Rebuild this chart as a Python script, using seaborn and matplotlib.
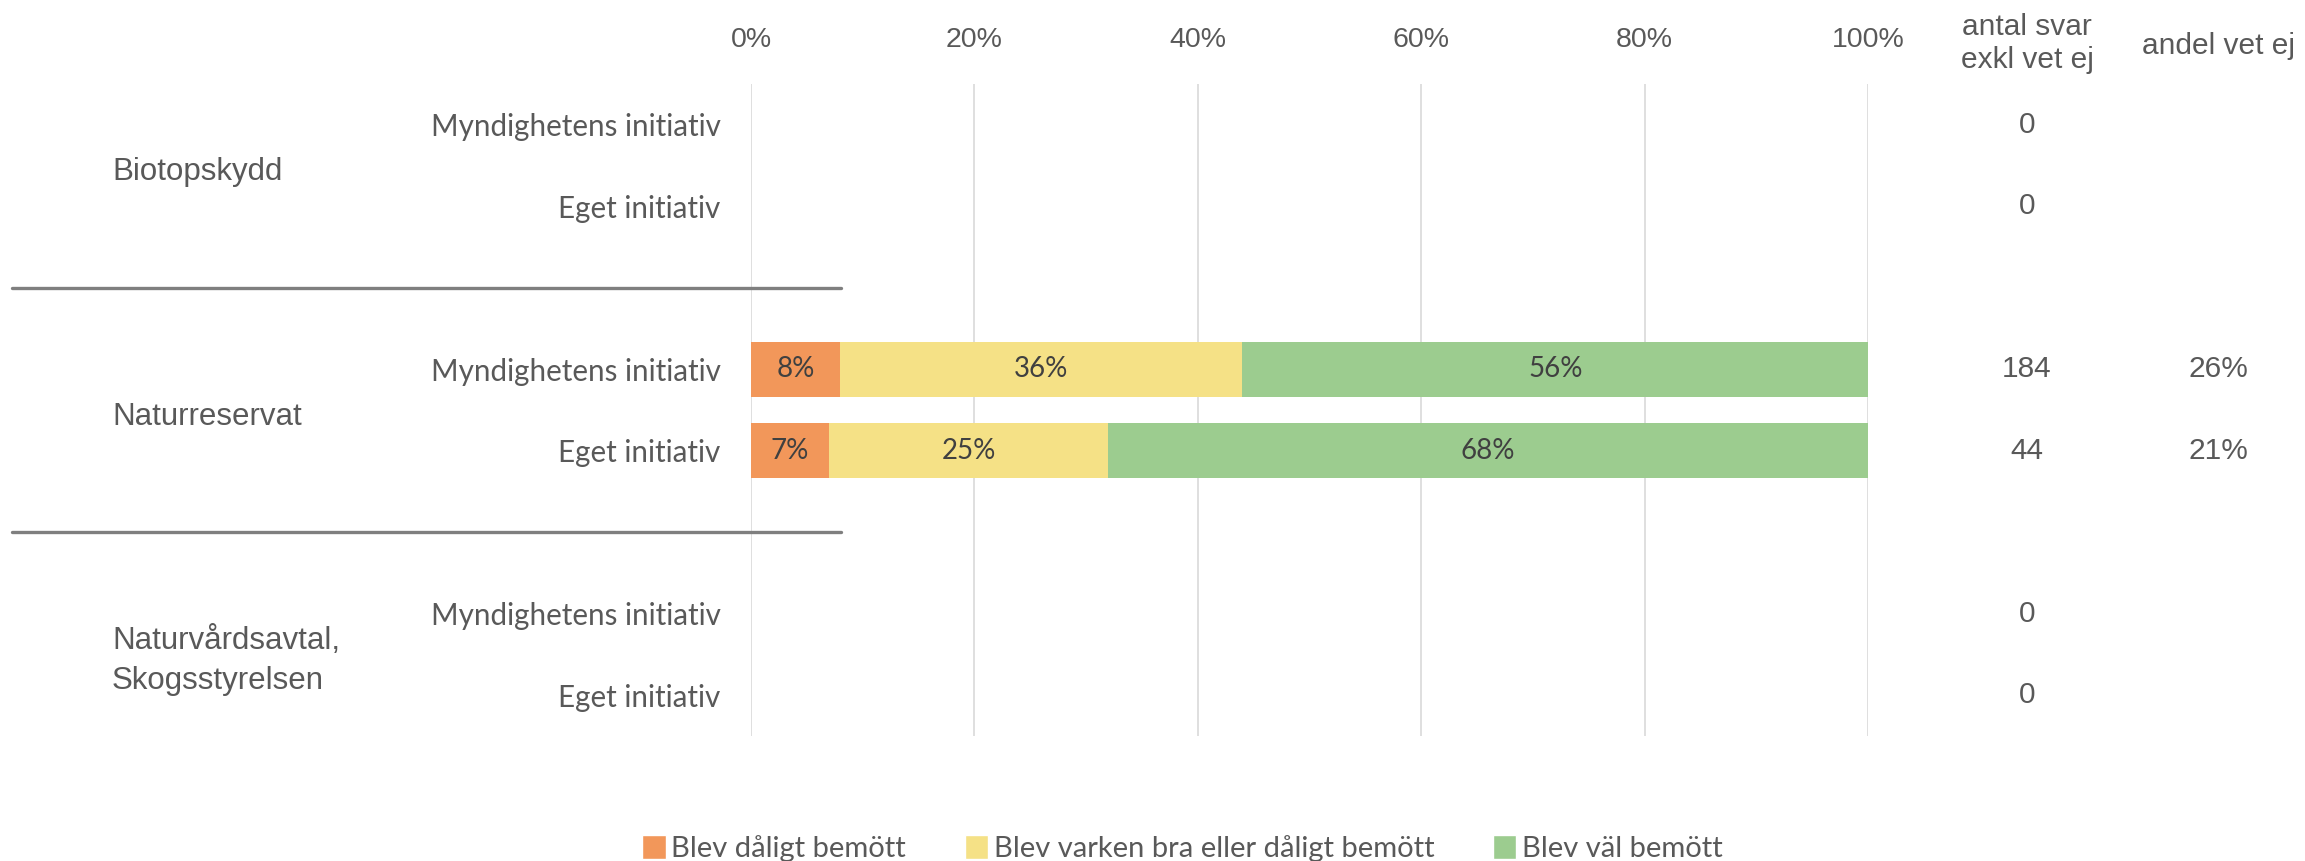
import numpy as np
import pandas as pd
import seaborn as sns
import matplotlib.pyplot as plt
from matplotlib import transforms
from matplotlib.lines import Line2D
from matplotlib.patches import Patch

# data
groups = ['Biotopskydd', 'Naturreservat', 'Naturvårdsavtal,\nSkogsstyrelsen']
initiatives = ['Myndighetens initiativ', 'Eget initiativ']
series = ['Blev dåligt bemött', 'Blev varken bra eller dåligt bemött', 'Blev väl bemött']
daligt = [np.nan, np.nan, 8, 7, np.nan, np.nan]
varken = [np.nan, np.nan, 36, 25, np.nan, np.nan]
val = [np.nan, np.nan, 56, 68, np.nan, np.nan]
antal_svar = ['0', '0', '184', '44', '0', '0']
andel_vet_ej = ['', '', '26%', '21%', '', '']
x_ticks = [0, 20, 40, 60, 80, 100]

colors = ['#F2975A', '#F5E186', '#9CCC8F']
grey = '#595959'
arial = 'Liberation Sans'
calibri = 'Lato'

rows = [f'{g}|{i}' for g in groups for i in initiatives]
order = rows[0:2] + ['gap1'] + rows[2:4] + ['gap2'] + rows[4:6]

df = pd.DataFrame({'row': rows, 'daligt': daligt, 'varken': varken, 'val': val})
df['c1'] = df['daligt']
df['c2'] = df['c1'] + df['varken']
df['c3'] = df['c2'] + df['val']

sns.set_style('white')
plt.rcParams['font.family'] = [arial, 'DejaVu Sans']

fig = plt.figure(figsize=(23.05, 8.61), dpi=100)
ax = fig.add_axes([751 / 2305, 1 - 736 / 861, 1117 / 2305, (736 - 84) / 861])

# stacked bars: draw cumulative totals from largest to smallest
for col, color in zip(['c3', 'c2', 'c1'], colors[::-1]):
    sns.barplot(data=df.dropna(subset=[col]), x=col, y='row', order=order, orient='h',
                color=color, width=0.67, saturation=1, errorbar=None, linewidth=0, ax=ax)

# segment labels
for _, r in df.dropna(subset=['c3']).iterrows():
    yi = order.index(r['row'])
    start = 0
    for v in [r['daligt'], r['varken'], r['val']]:
        ax.text(start + v / 2, yi, f'{v:.0f}%', ha='center', va='center',
                fontsize=20, family=calibri, color='#404040')
        start += v

ax.set_xlim(0, 100)
ax.set_ylim(len(order) - 0.5, -0.5)
ax.set_xticks(x_ticks)
ax.set_xticklabels([f'{t}%' for t in x_ticks], fontsize=20.5, color=grey)
ax.xaxis.tick_top()
ax.tick_params(axis='x', length=0, pad=22)
ax.set_yticks(range(len(order)))
ax.set_yticklabels([r.split('|')[1] if '|' in r else '' for r in order],
                   fontsize=21.3, family=calibri, color=grey)
ax.tick_params(axis='y', length=0, pad=22)
ax.set_xlabel('')
ax.set_ylabel('')
ax.grid(axis='x', color='#D9D9D9', linewidth=1.2)
ax.grid(axis='y', visible=False)
ax.set_axisbelow(True)
sns.despine(ax=ax, left=True, bottom=True, top=True, right=True)

# group labels and separators
fig_y = transforms.blended_transform_factory(fig.transFigure, ax.transData)
for gi, g in enumerate(groups):
    ys = [order.index(f'{g}|{i}') for i in initiatives]
    ax.text(112 / 2305, np.mean(ys) + 0.08, g, transform=fig_y, ha='left', va='center',
            fontsize=22.5, color=grey, linespacing=1.4)
for gap in ['gap1', 'gap2']:
    y = order.index(gap)
    fig.add_artist(Line2D([12 / 2305, 841 / 2305], [y, y], transform=fig_y,
                          color='#7F7F7F', linewidth=2.4))

# extra columns on the right
ax_y = ax.get_yaxis_transform()
for r, n, p in zip(rows, antal_svar, andel_vet_ej):
    yi = order.index(r)
    ax.text(1.1424, yi, n, transform=ax_y, ha='center', va='center', fontsize=21.5, color=grey)
    ax.text(1.3133, yi, p, transform=ax_y, ha='center', va='center', fontsize=21.5, color=grey)
fig.text(2027 / 2305, 1 - 43.5 / 861, 'antal svar\nexkl vet ej', ha='center', va='center',
         fontsize=21.5, color=grey)
fig.text(2218 / 2305, 1 - 46 / 861, 'andel vet ej', ha='center', va='center',
         fontsize=21.5, color=grey)

handles = [Patch(facecolor=c, label=s) for c, s in zip(colors, series)]
fig.legend(handles=handles, loc='center', bbox_to_anchor=(0.513, 0.015), ncol=3,
           frameon=False, handlelength=0.8, handleheight=0.9, handletextpad=0.2,
           columnspacing=2.0, labelcolor=grey, prop={'family': calibri, 'size': 21})

fig.savefig('out.png', dpi=100)
